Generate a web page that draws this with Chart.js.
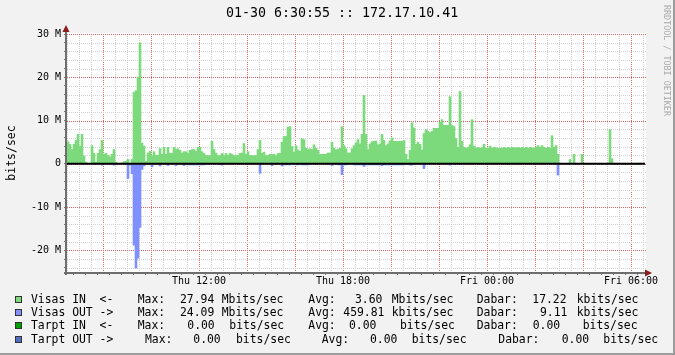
<!DOCTYPE html>
<html>
<head>
<meta charset="utf-8">
<script src="https://cdn.jsdelivr.net/npm/chart.js@4.4.0/dist/chart.umd.min.js"></script>
<style>
  body { margin: 0; background: #F2F2F2; }
  #wrap {
    position: relative; width: 675px; height: 355px; overflow: hidden;
    background: #F2F2F2; box-sizing: border-box;
    border-right: 2px solid #9C9C9C; border-bottom: 2px solid #9C9C9C;
    font-family: "DejaVu Sans Mono", monospace; color: #000;
  }
  canvas { position: absolute; left: 0; top: 0; }
  #title { position: absolute; left: 226px; top: 6px; font-size: 13.3px; line-height: 14px; white-space: pre; }
  #mark {
    position: absolute; left: 662px; top: 5px; font-size: 8.4px; color: #A9A9A9;
    writing-mode: vertical-rl; white-space: pre;
  }
  .lg { position: absolute; font-size: 11.4px; line-height: 13px; white-space: pre; }
  .sw { position: absolute; width: 7px; height: 7px; box-sizing: border-box; border: 1px solid #333; }
</style>
</head>
<body>
<div id="wrap">
  <canvas id="graph" width="675" height="355"></canvas>
  <div id="title">01-30 6:30:55 :: 172.17.10.41</div>
  <div id="mark">RRDTOOL / TOBI OETIKER</div>
  <div id="legend"></div>
</div>
<script>
// 5 minute samples, Thu 06:30 -> Fri 06:30, values in Mbits/sec
const stepMin = 5;

const visasIn = [
  5.1, 4.5, 3.3, 4.5, 5.4, 6.8, 4.1, 6.8, 1.8, 0.4,
  0, 0, 4.2, 2.4, 0.4, 2.4, 3.3, 5.4, 2.2, 2.4,
  1.9, 1.6, 2.2, 3.3, 0.4, 0, 0, 0.2, 0.5, 0.6,
  1.0, 0.1, 1.0, 16.5, 16.9, 20.0, 27.94, 4.8, 4.1, 0.6,
  2.5, 2.9, 1.9, 2.8, 2.0, 2.0, 3.5, 2.2, 3.8, 2.2,
  3.8, 2.4, 2.4, 3.8, 3.3, 3.5, 3.1, 2.5, 2.8, 2.8,
  2.4, 3.1, 3.3, 3.3, 2.9, 3.8, 3.8, 2.8, 2.4, 1.9,
  1.9, 1.9, 5.2, 3.3, 2.5, 1.9, 1.9, 2.4, 1.9, 2.4,
  1.9, 2.4, 2.2, 1.9, 1.9, 1.9, 2.4, 2.5, 4.7, 2.2,
  2.8, 1.9, 1.9, 1.9, 1.9, 3.3, 5.4, 2.4, 2.7, 1.9,
  1.9, 2.2, 2.2, 2.2, 1.9, 2.4, 2.4, 5.0, 6.3, 6.3,
  8.5, 8.6, 4.0, 2.7, 4.2, 3.2, 2.9, 5.8, 5.6, 3.6,
  3.3, 3.5, 3.3, 4.4, 3.6, 3.1, 2.2, 2.2, 2.2, 2.2,
  2.5, 2.5, 5.0, 3.6, 3.2, 3.4, 3.6, 8.6, 4.2, 3.5,
  2.5, 2.5, 3.5, 4.2, 4.8, 5.6, 4.6, 6.8, 15.8, 6.8,
  3.3, 4.6, 5.1, 5.2, 5.3, 4.4, 4.6, 6.8, 5.4, 4.2,
  4.6, 5.3, 6.0, 5.2, 5.2, 5.2, 5.2, 5.2, 5.4, 2.2,
  1.0, 3.1, 9.5, 8.3, 4.5, 5.0, 4.5, 3.2, 7.0, 7.9,
  7.5, 7.2, 7.5, 8.2, 8.2, 8.2, 9.6, 10.2, 8.9, 8.9,
  8.9, 15.5, 8.9, 8.6, 5.8, 3.8, 16.7, 5.2, 3.8, 3.6,
  3.8, 4.4, 10.2, 4.1, 3.6, 3.8, 3.6, 3.8, 4.5, 3.6,
  3.6, 4.1, 3.6, 3.8, 3.7, 3.6, 3.6, 3.6, 3.8, 3.6,
  3.8, 3.6, 3.8, 3.7, 3.7, 3.8, 3.6, 3.8, 3.6, 3.8,
  3.6, 3.8, 3.7, 3.6, 3.8, 4.2, 3.8, 4.2, 3.8, 3.6,
  3.8, 3.6, 6.5, 3.8, 4.2, 2.2, 0, 0, 0, 0,
  0, 1.0, 0, 2.2, 0, 0, 0, 2.2, 0, 0,
  0, 0, 0, 0, 0, 0, 0, 0, 0, 0,
  0.2, 7.9, 1.2, 0, 0, 0, 0, 0, 0, 0,
  0, 0, 0, 0, 0, 0, 0.2, 0
];

// outgoing traffic, drawn below the zero line
const visasOut = [
  0, 0, 0, 0, 0, 0, 0, 0, 0, 0,
  0, 0, 0, 0, 0, 0, 0, 0.3, 0, 0,
  0, 0, 0, 0.3, 0, 0, 0, 0, 0, 0,
  3.4, 0.3, 2.3, 18.8, 24.09, 21.8, 14.7, 1.3, 0.5, 0,
  0, 0, 0.7, 0, 0, 0, 0.5, 0, 0, 0,
  0.4, 0, 0, 0, 0.4, 0, 0, 0, 0.4, 0,
  0.25, 0.25, 0.25, 0.25, 0.25, 0.25, 0.25, 0.25, 0.25, 0,
  0, 0, 0, 0, 0, 0, 0, 0.3, 0, 0,
  0, 0, 0, 0, 0, 0, 0, 0, 0, 0,
  0, 0, 0, 0, 0, 0, 2.2, 0, 0, 0,
  0, 0, 0.4, 0, 0, 0, 0, 0.5, 0.25, 0.25,
  0.25, 0.25, 0, 0, 0.25, 0.25, 0, 0.25, 0.25, 0.25,
  0.25, 0, 0, 0, 0, 0, 0, 0, 0, 0,
  0, 0, 0.4, 0, 0, 0.25, 0.25, 2.5, 0.25, 0.25,
  0, 0, 0, 0.25, 0.25, 0.25, 0.25, 0.25, 0.6, 0.25,
  0.25, 0.25, 0.25, 0.25, 0.25, 0.25, 0.25, 0.4, 0.25, 0.25,
  0.25, 0.25, 0.25, 0.25, 0.25, 0.25, 0.25, 0.25, 0.25, 0,
  0, 0.3, 0.3, 0, 0, 0, 0, 0, 1.1, 0,
  0, 0, 0, 0, 0, 0, 0, 0, 0, 0,
  0, 0.3, 0, 0, 0, 0, 0, 0, 0, 0,
  0, 0, 0, 0, 0, 0, 0, 0, 0, 0,
  0, 0, 0, 0, 0, 0, 0, 0, 0, 0,
  0, 0, 0, 0, 0, 0, 0, 0, 0, 0,
  0, 0, 0, 0, 0, 0, 0, 0, 0, 0,
  0, 0, 0, 0, 0, 2.6, 0, 0, 0, 0,
  0, 0, 0, 0, 0, 0, 0, 0, 0, 0,
  0, 0, 0, 0, 0, 0, 0, 0, 0, 0,
  0, 0, 0, 0, 0, 0, 0, 0, 0, 0,
  0, 0, 0, 0, 0, 0, 0, 0
];

// x axis: minutes since Thu 06:30
const tickMinutes = [330, 690, 1050, 1410];
const tickLabels = ["Thu 12:00", "Thu 18:00", "Fri 00:00", "Fri 06:00"];
const yMajor = [-20, -10, 0, 10, 20, 30];
const yMajorLabels = ["-20 M", "-10 M", "0", "10 M", "20 M", "30 M"];

// legend text
const legendNames = ["Visas IN  <-", "Visas OUT ->", "Tarpt IN  <-", "Tarpt OUT ->"];
const legendColors = ["#7CD97C", "#8090FF", "#00A000", "#5070C8"];
const maxVal = ["27.94", "24.09", "0.00", "0.00"];
const maxUnit = ["Mbits/sec", "Mbits/sec", "bits/sec", "bits/sec"];
const avgVal = ["3.60", "459.81", "0.00", "0.00"];
const avgUnit = ["Mbits/sec", "kbits/sec", "bits/sec", "bits/sec"];
const curVal = ["17.22", "9.11", "0.00", "0.00"];
const curUnit = ["kbits/sec", "kbits/sec", "bits/sec", "bits/sec"];

const FONT = "DejaVu Sans Mono";
const GREEN = "#7CD97C";
const BLUE = "#8090FF";

// legend layout (x of each piece per row)
const rowTop = [292.8, 306.1, 319.4, 332.7];
const colX = [
  [137.7, 180, 221.7, 308.3, 355, 391.7, 476.7, 532.3, 576.7],
  [137.7, 180, 221.7, 308.3, 343.3, 391.7, 476.7, 540, 576.7],
  [137.7, 187.3, 229.3, 308.3, 349, 400, 476.7, 532.7, 582.7],
  [145, 193.3, 236, 321.7, 370, 411.7, 498.3, 561.7, 603.3]
];

const legend = document.getElementById("legend");
function addText(x, y, text) {
  const s = document.createElement("div");
  s.className = "lg";
  s.style.left = x + "px";
  s.style.top = y + "px";
  s.textContent = text;
  legend.appendChild(s);
}
legendNames.forEach((name, r) => {
  const sw = document.createElement("div");
  sw.className = "sw";
  sw.style.left = "15px";
  sw.style.top = (rowTop[r] + 3) + "px";
  sw.style.background = legendColors[r];
  legend.appendChild(sw);
  addText(31, rowTop[r], name);
  const parts = ["Max:", maxVal[r], maxUnit[r], "Avg:", avgVal[r], avgUnit[r], "Dabar:", curVal[r], curUnit[r]];
  parts.forEach((p, k) => addText(colX[r][k], rowTop[r], p));
});

// grid positions: x every 30 min (red every 2 h of clock time), y every 2 M (red every 10 M)
const GRID = "#D2D2D2";
const MGRID = "#DD6666";
const xGridMin = [];
for (let m = 0; m <= 1440; m += 30) xGridMin.push(m);
const yGridVal = [];
for (let v = -24; v <= 30; v += 2) yGridVal.push(v);

// rrdtool look: white canvas, dotted grid under the bars, axes/arrows/zero rule on top
const rrdFrame = {
  id: "rrdFrame",
  beforeDatasetsDraw(chart) {
    const { ctx, chartArea: a, scales } = chart;
    ctx.save();
    ctx.fillStyle = "#FFFFFF";
    ctx.fillRect(a.left, a.top - 1, a.right - a.left + 3, a.bottom - a.top + 1);
    ctx.lineWidth = 1;
    ctx.setLineDash([1, 1]);
    xGridMin.forEach((m) => {
      const x = Math.round(scales.x.getPixelForValue(m)) + 0.5;
      ctx.strokeStyle = (m + 390) % 120 === 0 ? MGRID : GRID;
      ctx.beginPath();
      ctx.moveTo(x, a.top);
      ctx.lineTo(x, a.bottom);
      ctx.stroke();
    });
    yGridVal.forEach((v) => {
      const y = Math.round(scales.y.getPixelForValue(v)) + 0.5;
      ctx.strokeStyle = v % 10 === 0 ? MGRID : GRID;
      ctx.beginPath();
      ctx.moveTo(a.left, y);
      ctx.lineTo(a.right + 3, y);
      ctx.stroke();
    });
    ctx.restore();
  },
  afterDatasetsDraw(chart) {
    const { ctx, chartArea: a } = chart;
    const y0 = chart.scales.y.getPixelForValue(0);
    ctx.save();
    ctx.strokeStyle = "#000000";
    ctx.lineWidth = 2;
    ctx.beginPath();
    ctx.moveTo(a.left, y0);
    ctx.lineTo(a.right + 2, y0);
    ctx.stroke();

    ctx.strokeStyle = "#6E6E6E";
    ctx.lineWidth = 2;
    ctx.beginPath();
    ctx.moveTo(a.left - 1, a.bottom + 3);
    ctx.lineTo(a.left - 1, a.top - 3);
    ctx.moveTo(a.left - 3, a.bottom + 1);
    ctx.lineTo(a.right + 3, a.bottom + 1);
    ctx.stroke();

    ctx.fillStyle = "#8E1B1B";
    ctx.beginPath();
    ctx.moveTo(a.left - 4.5, a.top - 2);
    ctx.lineTo(a.left + 2.5, a.top - 2);
    ctx.lineTo(a.left - 1, a.top - 9);
    ctx.closePath();
    ctx.fill();
    ctx.beginPath();
    ctx.moveTo(a.right + 2, a.bottom - 2.5);
    ctx.lineTo(a.right + 2, a.bottom + 4.5);
    ctx.lineTo(a.right + 9, a.bottom + 1);
    ctx.closePath();
    ctx.fill();
    ctx.restore();
  }
};

new Chart(document.getElementById("graph"), {
  type: "bar",
  data: {
    datasets: [
      {
        label: "Visas IN",
        data: visasIn.map((v, i) => ({ x: i * stepMin + stepMin / 2, y: v })),
        backgroundColor: GREEN,
        borderWidth: 0,
        barPercentage: 1,
        categoryPercentage: 1,
        grouped: false
      },
      {
        label: "Visas OUT",
        data: visasOut.map((v, i) => ({ x: i * stepMin + stepMin / 2, y: -v })),
        backgroundColor: BLUE,
        borderWidth: 0,
        barPercentage: 1,
        categoryPercentage: 1,
        grouped: false
      }
    ]
  },
  options: {
    responsive: false,
    animation: false,
    devicePixelRatio: 1,
    layout: { padding: { top: 34, right: 32, left: 0, bottom: 0 } },
    plugins: { legend: { display: false }, tooltip: { enabled: false } },
    scales: {
      x: {
        type: "linear",
        min: 0,
        max: 1440,
        offset: false,
        afterBuildTicks: (s) => {
          s.ticks = xGridMin.map((m) => ({ value: m }));
        },
        afterFit: (s) => { s.height = 83; },
        grid: {
          drawOnChartArea: false,
          color: "#777",
          tickLength: 3
        },
        border: { display: false },
        ticks: {
          autoSkip: false,
          maxRotation: 0,
          padding: 0,
          color: "#000",
          font: { family: FONT, size: 10 },
          callback: (v) => {
            const k = tickMinutes.indexOf(v);
            return k >= 0 ? tickLabels[k] : "";
          }
        }
      },
      y: {
        min: -25,
        max: 30,
        afterBuildTicks: (s) => {
          s.ticks = yGridVal.map((v) => ({ value: v }));
        },
        afterFit: (s) => { s.width = 67; },
        grid: {
          drawOnChartArea: false,
          color: "#777",
          tickLength: 3
        },
        border: { display: false },
        title: {
          display: true,
          text: "bits/sec",
          color: "#000",
          font: { family: FONT, size: 11.5 },
          padding: { top: 5, bottom: 0 }
        },
        ticks: {
          autoSkip: false,
          padding: 3,
          color: "#000",
          font: { family: FONT, size: 10 },
          callback: (v) => {
            const k = yMajor.indexOf(v);
            return k >= 0 ? yMajorLabels[k] : "";
          }
        }
      }
    }
  },
  plugins: [rrdFrame]
});
</script>
</body>
</html>
